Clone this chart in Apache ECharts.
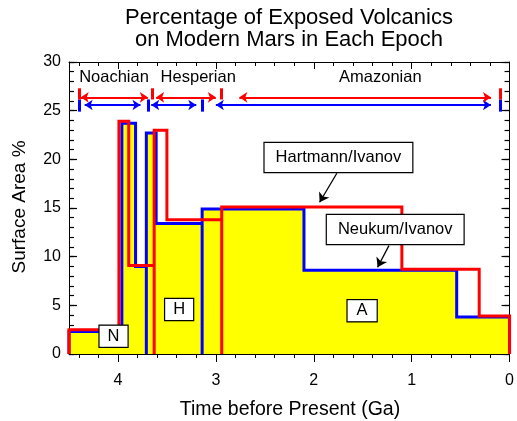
<!DOCTYPE html>
<html>
<head>
<meta charset="utf-8">
<script src="https://cdn.jsdelivr.net/npm/echarts@6/dist/echarts.min.js"></script>
<style>
  html, body { margin: 0; padding: 0; background: #fff; }
  #chart { width: 517px; height: 421px; }
</style>
</head>
<body>
<div id="chart"></div>
<script>
// Step boundaries (Ga before present) and exposed-volcanic surface area (%)
const hartmannEdges = [4.5, 3.99, 3.89, 3.63, 3.5, 2.94, 1.1, 0.31, 0];
const hartmannValues = [2.5, 23.9, 9.1, 23.0, 13.8, 15.1, 8.7, 3.9];
const hartmannEpochEnds = [3.63, 2.94];

const neukumEdges = [4.5, 3.96, 3.82, 3.71, 3.61, 3.14, 2.1, 0.54, 0];
const neukumValues = [2.3, 23.7, 9.0, 22.7, 13.4, 14.9, 8.6, 3.8];
const neukumEpochEnds = [3.71, 3.14];

// Epoch span markers drawn along the top of the plot
const epochNames = ['Noachian', 'Hesperian', 'Amazonian'];
const epochNameTimes = [4.04, 3.18, 1.32];
const hartmannEpochMarks = [4.4, 3.645, 2.945, 0.1];
const neukumEpochMarks = [4.4, 3.695, 3.14, 0.1];
const hartmannEpochArrows = [[4.38, 3.695], [3.61, 3.0], [2.76, 0.19]];
const neukumEpochArrows = [[4.34, 3.77], [3.66, 3.2], [3.0, 0.19]];

// Axis ticks
const xTickLabels = [0, 1, 2, 3, 4];
const xMinorTicks = [0.2, 0.4, 0.6, 0.8, 1.2, 1.4, 1.6, 1.8, 2.2, 2.4, 2.6, 2.8,
                     3.2, 3.4, 3.6, 3.8, 4.2, 4.4];
const yTickLabels = [0, 5, 10, 15, 20, 25, 30];

const FONT = "'Liberation Sans', Arial, Helvetica, sans-serif";
const BLACK_LINE = { color: '#000', width: 1 };

// Turn edges/values into a closed step outline that drops to zero at each epoch end
function stepOutline(edges, values, epochEnds) {
  const pts = [[edges[0], 0]];
  for (let i = 0; i < values.length; i++) {
    pts.push([edges[i], values[i]]);
    pts.push([edges[i + 1], values[i]]);
    if (epochEnds.includes(edges[i + 1])) pts.push([edges[i + 1], 0]);
  }
  pts.push([edges[edges.length - 1], 0]);
  return pts;
}

function epochMarkLines(marks, arrows, level, barLow, barHigh, color) {
  const lines = [];
  marks.forEach(t => {
    lines.push([
      { coord: [t, barLow], symbol: 'none', lineStyle: { color, width: 3, type: 'solid' } },
      { coord: [t, barHigh], symbol: 'none' }
    ]);
  });
  arrows.forEach(([a, b]) => {
    lines.push([
      { coord: [a, level], symbol: 'arrow', symbolSize: 8, lineStyle: { color, width: 2, type: 'solid' } },
      { coord: [b, level], symbol: 'arrow', symbolSize: 8 }
    ]);
  });
  return lines;
}

const boxLabel = (padding) => ({
  show: true, position: 'inside', formatter: '{b}', opacity: 1,
  fontFamily: FONT, fontSize: 16.5, color: '#000', lineHeight: 17,
  backgroundColor: '#fff', borderColor: '#000', borderWidth: 1.2, padding
});

const chart = echarts.init(document.getElementById('chart'), null, { renderer: 'canvas' });

const xCommon = { type: 'value', min: 0, max: 4.5, inverse: true, splitLine: { show: false } };
const yCommon = { type: 'value', min: 0, max: 30, splitLine: { show: false } };

function xAxisDef(position, interval, withLine, inside, length, ticks, labels) {
  return Object.assign({}, xCommon, {
    position, interval,
    axisLine: { show: withLine, onZero: false, lineStyle: BLACK_LINE },
    axisTick: { show: true, inside, length, customValues: ticks, lineStyle: BLACK_LINE },
    axisLabel: labels ? {
      show: true, customValues: xTickLabels, margin: 19,
      fontFamily: FONT, fontSize: 16, color: '#000',
      formatter: v => (xTickLabels.includes(v) ? String(v) : '')
    } : { show: false }
  });
}

function yAxisDef(position, interval, withLine, length, labels) {
  return Object.assign({}, yCommon, {
    position, interval,
    axisLine: { show: withLine, onZero: false, lineStyle: BLACK_LINE },
    axisTick: { show: true, inside: true, length, lineStyle: { color: '#000', width: 1.2 } },
    axisLabel: labels ? {
      show: true, margin: 8, fontFamily: FONT, fontSize: 16, color: '#000',
      formatter: v => (yTickLabels.includes(v) ? String(v) : '')
    } : { show: false }
  });
}

chart.setOption({
  animation: false,
  backgroundColor: '#fff',
  grid: { left: 69, right: 5, top: 62, bottom: 67, containLabel: false },
  graphic: [
    {
      type: 'text', x: 289, y: 7, z: 10,
      style: {
        text: 'Percentage of Exposed Volcanics\non Modern Mars in Each Epoch',
        textAlign: 'center', fontFamily: FONT, fontSize: 22, lineHeight: 22, fill: '#000'
      }
    },
    {
      type: 'text', x: 290, y: 410, z: 10,
      style: {
        text: 'Time before Present (Ga)', textAlign: 'center', textVerticalAlign: 'middle',
        fontFamily: FONT, fontSize: 19.5, fill: '#000'
      }
    },
    {
      type: 'text', x: 20, y: 207, rotation: Math.PI / 2, z: 10,
      style: {
        text: 'Surface Area %', textAlign: 'center', textVerticalAlign: 'middle',
        fontFamily: FONT, fontSize: 19, fill: '#000'
      }
    }
  ],
  xAxis: [
    xAxisDef('bottom', 1, true, false, 8, xTickLabels, true),
    xAxisDef('bottom', 0.2, false, false, 4, xMinorTicks, false),
    xAxisDef('top', 1, true, true, 7, xTickLabels, false),
    xAxisDef('top', 0.2, false, true, 4, xMinorTicks, false)
  ],
  yAxis: [
    yAxisDef('left', 5, true, 8, true),
    yAxisDef('left', 1, false, 5, false),
    yAxisDef('right', 5, true, 8, false),
    yAxisDef('right', 1, false, 5, false)
  ],
  series: [
    {
      name: 'Neukum/Ivanov',
      type: 'line', xAxisIndex: 0, yAxisIndex: 0, z: 2, clip: false,
      data: stepOutline(neukumEdges, neukumValues, neukumEpochEnds),
      symbol: 'none', silent: true,
      lineStyle: { color: '#0000ff', width: 3, join: 'miter' },
      areaStyle: { color: '#ffff00', opacity: 1 },
      markLine: {
        silent: true, animation: false, label: { show: false },
        data: epochMarkLines(neukumEpochMarks, neukumEpochArrows, 25.58, 24.9, 26.15, '#0000ff')
      }
    },
    {
      name: 'Hartmann/Ivanov',
      type: 'line', xAxisIndex: 0, yAxisIndex: 0, z: 3, clip: false,
      data: stepOutline(hartmannEdges, hartmannValues, hartmannEpochEnds),
      symbol: 'none', silent: true,
      lineStyle: { color: '#ff0000', width: 3, join: 'miter' },
      markLine: {
        silent: true, animation: false, label: { show: false },
        data: epochMarkLines(hartmannEpochMarks, hartmannEpochArrows, 26.37, 26.15, 27.3, '#ff0000')
      }
    },
    {
      name: 'labels',
      type: 'scatter', xAxisIndex: 0, yAxisIndex: 0, z: 5, silent: true,
      symbolSize: 1, itemStyle: { color: 'rgba(0,0,0,0)', opacity: 1 },
      data: [
        { name: 'Hartmann/Ivanov', value: [1.748, 20.19], label: boxLabel([6, 11]) },
        { name: 'Neukum/Ivanov', value: [1.168, 12.79], label: boxLabel([6, 11]) },
        { name: 'N', value: [4.045, 1.82], label: boxLabel([2, 8]) },
        { name: 'H', value: [3.375, 4.57], label: boxLabel([2, 8]) },
        { name: 'A', value: [1.506, 4.45], label: boxLabel([2, 9]) }
      ].concat(epochNames.map((n, i) => ({
        name: n, value: [epochNameTimes[i], 28.4],
        label: { show: true, position: 'inside', formatter: '{b}', opacity: 1,
                 fontFamily: FONT, fontSize: 16.5, color: '#000' }
      }))),
      markLine: {
        silent: true, animation: false, label: { show: false },
        lineStyle: { color: '#000', width: 1.3, type: 'solid' },
        data: [
          [{ coord: [1.764, 18.57], symbol: 'none' }, { coord: [1.94, 15.59], symbol: 'arrow', symbolSize: 9 }],
          [{ coord: [1.232, 11.13], symbol: 'none' }, { coord: [1.348, 8.91], symbol: 'arrow', symbolSize: 9 }]
        ]
      }
    }
  ]
});
</script>
</body>
</html>
